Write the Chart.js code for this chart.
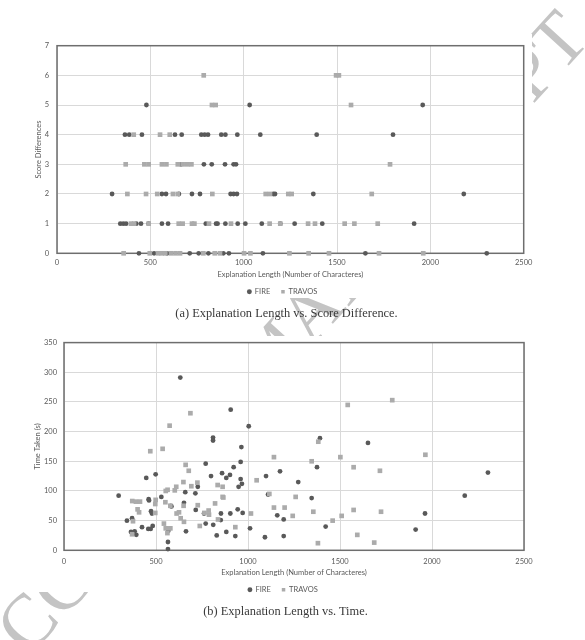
<!DOCTYPE html>
<html>
<head>
<meta charset="utf-8">
<script src="https://cdn.jsdelivr.net/npm/chart.js@4"></script>
<style>
  html, body { margin:0; padding:0; background:#fff; }
  body { width:585px; height:640px; position:relative; overflow:hidden; }
  #wm { position:absolute; left:0; top:0; }
  .box { position:absolute; left:0; width:585px; }
  .cap { position:absolute; left:0; width:585px; text-align:center; font-family:"Liberation Serif", serif; font-size:12.4px; color:#3a3a3a; white-space:nowrap; line-height:14px; }
</style>
</head>
<body>
<canvas id="wm" width="585" height="640"></canvas>
<div class="box" style="top:30px;height:276px;"><canvas id="c1"></canvas></div>
<div class="box" style="top:330px;height:274px;"><canvas id="c2"></canvas></div>
<div class="cap" style="top:306px;left:-6px;">(a) Explanation Length vs. Score Difference.</div>
<div class="cap" style="top:604px;left:-7px;">(b) Explanation Length vs. Time.</div>
<script>
// ---------- data ----------
const xTicks = [0, 500, 1000, 1500, 2000, 2500];
const seriesNames = ['FIRE', 'TRAVOS'];

// (a) Explanation length vs. score difference
const fireScoreX = [479,1032,1959,
  364,387,455,632,668,773,791,809,880,902,966,1089,1391,1800,
  664,787,829,900,946,959,
  295,562,584,653,723,766,930,946,964,1159,1168,1373,2179,
  339,355,370,425,450,491,562,595,797,852,860,902,968,1009,1097,1196,1273,1421,1913,
  439,520,590,711,759,811,891,921,1103,1652,2302];
const fireScoreY = [5,5,5,
  4,4,4,4,4,4,4,4,4,4,4,4,4,4,
  3,3,3,3,3,3,
  2,2,2,2,2,2,2,2,2,2,2,2,2,
  1,1,1,1,1,1,1,1,1,1,1,1,1,1,1,1,1,1,1,
  0,0,0,0,0,0,0,0,0,0,0];
const travosScoreX = [786,1495,1510,
  830,850,1575,
  411,552,604,
  368,468,491,562,586,647,673,698,720,1784,
  377,477,537,621,647,832,1118,1141,1239,1257,1686,
  396,413,491,652,673,723,736,814,932,1139,1196,1345,1382,1541,1593,1718,
  357,497,541,560,580,611,635,659,784,845,873,1002,1036,1245,1348,1457,1725,1962];
const travosScoreY = [6,6,6,
  5,5,5,
  4,4,4,
  3,3,3,3,3,3,3,3,3,3,
  2,2,2,2,2,2,2,2,2,2,2,
  1,1,1,1,1,1,1,1,1,1,1,1,1,1,1,1,
  0,0,0,0,0,0,0,0,0,0,0,0,0,0,0,0,0,0];

// (b) Explanation length vs. time taken (s)
const fireTimeX = [632,906,1004,810,810,964,960,770,447,498,799,859,882,902,922,960,967,949,
  297,460,462,529,659,714,727,580,584,652,716,761,473,478,370,342,853,852,904,944,971,
  424,458,482,471,364,384,393,567,565,565,663,770,811,830,882,931,1011,1092,
  1098,1109,1174,1159,1194,1194,1273,1391,1375,1346,1422,1652,1911,1962,2178,2304];
const fireTimeY = [291,237,209,190,185,174,149,146,122,128,125,130,122,127,140,120,112,107,
  92,86,84,90,98,96,107,75,74,80,68,62,66,62,54,50,62,51,62,69,63,
  39,36,41,36,31,32,26,33,14,2,32,45,43,25,31,24,37,22,
  125,94,133,59,52,24,115,189,140,88,40,181,35,62,92,131];
const travosTimeX = [687,574,469,536,661,678,1141,1047,1116,1259,1141,1199,1243,1016,931,738,
  371,391,413,400,408,375,370,498,496,496,553,563,602,610,649,692,725,551,578,650,
  612,625,634,652,727,763,786,788,821,835,862,862,866,837,543,553,562,578,
  1542,1784,1382,1346,1502,1574,1717,1964,1355,1460,1509,1574,1723,1594,1686,1380];
const travosTimeY = [231,210,167,171,144,134,157,118,95,90,72,72,58,62,39,41,
  83,82,82,69,64,49,27,85,78,63,100,102,101,107,115,108,114,81,75,75,
  62,64,54,48,76,63,67,60,79,110,107,90,89,52,45,37,29,37,
  245,253,183,150,157,140,134,161,65,50,58,68,65,26,13,12];

function pts(xs, ys) { return xs.map((x, i) => ({x: x, y: ys[i]})); }

// ---------- watermark ----------
(function () {
  const c = document.getElementById('wm');
  const ctx = c.getContext('2d');
  const fs = 75;
  ctx.font = fs + 'px "Liberation Serif"';
  const text = 'ACCEPTED MANUSCRIPT';
  const off = ctx.measureText('A').width + ctx.measureText('C').width / 2;
  ctx.save();
  ctx.translate(27, 622);
  ctx.rotate(-47.6 * Math.PI / 180);
  ctx.fillStyle = '#c4c4c4';
  ctx.fillText(text, -off, 0.33 * fs);
  ctx.restore();
  ctx.fillStyle = '#fff';
  ctx.fillRect(22, 34, 510, 264);
  ctx.fillRect(22, 336, 510, 256);
})();

// ---------- charts ----------
const FONT = 'Lato';
const TXT = '#595959';
const FIRE_C = '#595959';
const TRAV_C = '#ababab';

const framePlugin = {
  id: 'frame',
  beforeDatasetsDraw(chart) {
    const a = chart.chartArea, ctx = chart.ctx;
    ctx.save();
    ctx.strokeStyle = '#6e6e6e';
    ctx.lineWidth = 1.5;
    ctx.strokeRect(a.left, a.top, a.right - a.left, a.bottom - a.top);
    ctx.restore();
  }
};
const legendShift = {
  id: 'legendShift',
  afterLayout(chart, args, opts) {
    if (chart.legend) { chart.legend.left += opts.dx; chart.legend.right += opts.dx; }
  }
};

function makeChart(id, cfg) {
  return new Chart(document.getElementById(id), {
    type: 'scatter',
    data: {
      datasets: [
        { label: seriesNames[0], data: cfg.fire, pointStyle: 'circle', pointRadius: 2.4, pointHoverRadius: 2.4,
          backgroundColor: FIRE_C, borderColor: FIRE_C, borderWidth: 0, order: 1, clip: false },
        { label: seriesNames[1], data: cfg.travos, pointStyle: 'rect', pointRadius: 3.3, pointHoverRadius: 3.3,
          backgroundColor: TRAV_C, borderColor: TRAV_C, borderWidth: 0, order: 0, clip: false }
      ]
    },
    options: {
      responsive: true, maintainAspectRatio: false, animation: false,
      layout: { padding: cfg.pad },
      plugins: {
        tooltip: { enabled: false },
        legend: {
          position: 'bottom',
          labels: { usePointStyle: true, boxWidth: 3.5, boxHeight: 3.5, padding: 11,
            sort: (a, b) => a.datasetIndex - b.datasetIndex,
            color: TXT, font: { family: FONT, size: 7.5 } }
        },
        legendShift: { dx: cfg.legendDx }
      },
      scales: {
        x: {
          type: 'linear', min: 0, max: 2500,
          afterBuildTicks: s => { s.ticks = xTicks.map(v => ({value: v})); },
          afterFit: s => { s.height = cfg.xH; },
          grid: { color: '#d9d9d9', lineWidth: 1, drawTicks: false },
          border: { display: false },
          ticks: { color: TXT, font: { family: FONT, size: 7.5 }, padding: cfg.xPad, autoSkip: false, maxRotation: 0,
            callback: v => String(v) },
          title: { display: true, text: 'Explanation Length (Number of Characteres)', color: TXT,
            font: { family: FONT, size: 7.5 }, padding: { top: 0, bottom: cfg.titlePadB } }
        },
        y: {
          type: 'linear', min: 0, max: cfg.yMax,
          afterBuildTicks: s => { s.ticks = cfg.yTicks.map(v => ({value: v})); },
          afterFit: s => { s.width = cfg.yW; },
          grid: { color: '#d9d9d9', lineWidth: 1, drawTicks: false },
          border: { display: false },
          ticks: { color: TXT, font: { family: FONT, size: 7.5 }, padding: cfg.yPad, callback: v => String(v) },
          title: { display: true, text: cfg.yTitle, color: TXT,
            font: { family: FONT, size: 7.5 }, padding: { top: cfg.yTitlePad, bottom: 0 } }
        }
      }
    },
    plugins: [framePlugin, legendShift]
  });
}

const scoreTicks = [0, 1, 2, 3, 4, 5, 6, 7];
const timeTicks = [0, 50, 100, 150, 200, 250, 300, 350];

makeChart('c1', {
  fire: pts(fireScoreX, fireScoreY), travos: pts(travosScoreX, travosScoreY),
  pad: { top: 15.7, right: 61.3, bottom: 0.5, left: 0 },
  legendDx: 20.6, xH: 23.7, xPad: 4.5, titlePadB: -2.5,
  yMax: 7, yTicks: scoreTicks, yW: 57, yPad: 8, yTitle: 'Score Differences', yTitlePad: 34.5
});
makeChart('c2', {
  fire: pts(fireTimeX, fireTimeY), travos: pts(travosTimeX, travosTimeY),
  pad: { top: 12.6, right: 61, bottom: 0.55, left: 0 },
  legendDx: 21, xH: 24.65, xPad: 6.5, titlePadB: -2.55,
  yMax: 350, yTicks: timeTicks, yW: 64, yPad: 7, yTitle: 'Time Taken (s)', yTitlePad: 32.8
});
</script>
</body>
</html>
